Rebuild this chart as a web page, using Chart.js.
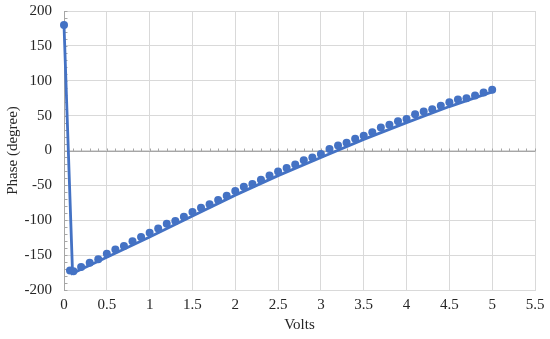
<!DOCTYPE html>
<html>
<head>
<meta charset="utf-8">
<script src="https://cdn.jsdelivr.net/npm/chart.js@4"></script>
<style>
  body { margin: 0; background: #fff; }
  #wrap { width: 550px; height: 339px; }
</style>
</head>
<body>
<div id="wrap"><canvas id="phaseChart"></canvas></div>
<script>
// measured phase (markers)
var volts = [0, 0.07, 0.11, 0.2, 0.3, 0.4, 0.5, 0.6, 0.7, 0.8, 0.9, 1.0, 1.1, 1.2, 1.3, 1.4, 1.5, 1.6, 1.7, 1.8, 1.9,
    2.0, 2.1, 2.2, 2.3, 2.4, 2.5, 2.6, 2.7, 2.8, 2.9, 3.0, 3.1, 3.2, 3.3, 3.4, 3.5, 3.6, 3.7, 3.8, 3.9,
    4.0, 4.1, 4.2, 4.3, 4.4, 4.5, 4.6, 4.7, 4.8, 4.9, 5.0];
var phase = [180, -172, -173, -167, -161, -156, -148, -142, -137, -130, -124, -118, -112, -105, -101, -95, -88, -82, -77, -71, -65,
    -58, -52, -48, -42, -36, -30, -25, -20, -14, -10, -5, 2, 7, 11, 17, 21, 26, 33, 37, 42,
    45, 52, 56, 59, 64, 69, 73, 75, 79, 83, 87];

// line series
var lineVolts = [0, 0.1, 0.5, 1, 1.5, 2, 2.5, 3, 3.5, 4, 4.5, 5];
var linePhase = [180, -176, -153, -124, -94, -64, -36, -10, 16, 40, 63, 84];

var xTicks = [0, 0.5, 1, 1.5, 2, 2.5, 3, 3.5, 4, 4.5, 5, 5.5];

var blue = '#4472C4';
var gridColor = '#d9d9d9';
var font = { family: 'Liberation Serif', size: 15 };

function toPoints(xs, ys) {
    var pts = [];
    for (var i = 0; i < xs.length; i++) pts.push({ x: xs[i], y: ys[i] });
    return pts;
}

// zero line on x axis plus minor tick marks on both axes
var minorTicks = {
    id: 'minorTicks',
    beforeDatasetsDraw: function (chart) {
        var c = chart.ctx, xs = chart.scales.x, ys = chart.scales.y;
        var y0 = Math.round(ys.getPixelForValue(0)) + 0.5;
        var x0 = Math.round(xs.getPixelForValue(0)) + 0.5;
        c.save();
        c.strokeStyle = '#a6a6a6';
        c.lineWidth = 1;
        c.beginPath();
        c.moveTo(xs.left, y0);
        c.lineTo(xs.right, y0);
        for (var v = 0; v <= 55; v++) {
            var px = Math.round(xs.getPixelForValue(v / 10)) + 0.5;
            c.moveTo(px, y0);
            c.lineTo(px, y0 - 3);
        }
        for (var d = -200; d <= 200; d += 10) {
            var py = Math.round(ys.getPixelForValue(d)) + 0.5;
            c.moveTo(x0, py);
            c.lineTo(x0 + 3, py);
        }
        c.stroke();
        c.restore();
    }
};

new Chart(document.getElementById('phaseChart').getContext('2d'), {
    type: 'scatter',
    data: {
        datasets: [{
            label: 'Measured',
            data: toPoints(volts, phase),
            showLine: false,
            clip: false,
            pointRadius: 4,
            pointBackgroundColor: blue,
            pointBorderColor: blue,
            pointBorderWidth: 0
        }, {
            label: 'Fit',
            data: toPoints(lineVolts, linePhase),
            showLine: true,
            clip: false,
            borderColor: blue,
            borderWidth: 2.8,
            pointRadius: 0,
            tension: 0
        }]
    },
    plugins: [minorTicks],
    options: {
        responsive: true,
        maintainAspectRatio: false,
        animation: false,
        layout: { autoPadding: false, padding: { left: 0, top: 11, right: 15, bottom: 0 } },
        plugins: { legend: { display: false }, tooltip: { enabled: false } },
        scales: {
            x: {
                type: 'linear',
                min: 0,
                max: 5.5,
                afterBuildTicks: function (s) { s.ticks = xTicks.map(function (v) { return { value: v }; }); },
                afterFit: function (s) { s.height = 49; s.paddingLeft = 0; s.paddingRight = 0; },
                grid: { color: gridColor, lineWidth: 1, drawTicks: false },
                border: { color: gridColor },
                ticks: {
                    color: '#262626', font: font, padding: 6, maxRotation: 0,
                    callback: function (v) { return String(v); }
                },
                title: { display: true, text: 'Volts', color: '#262626', font: font, padding: { top: 0, bottom: 5 } }
            },
            y: {
                min: -200,
                max: 200,
                afterFit: function (s) { s.width = 64; s.paddingTop = 0; s.paddingBottom = 0; },
                ticks: { stepSize: 50, color: '#262626', font: font, padding: 12 },
                grid: { color: gridColor, lineWidth: 1, drawTicks: false },
                border: { color: '#a6a6a6' },
                title: { display: true, text: 'Phase (degree)', color: '#262626', font: font, padding: { top: 4, bottom: 0 } }
            }
        }
    }
});
</script>
</body>
</html>
